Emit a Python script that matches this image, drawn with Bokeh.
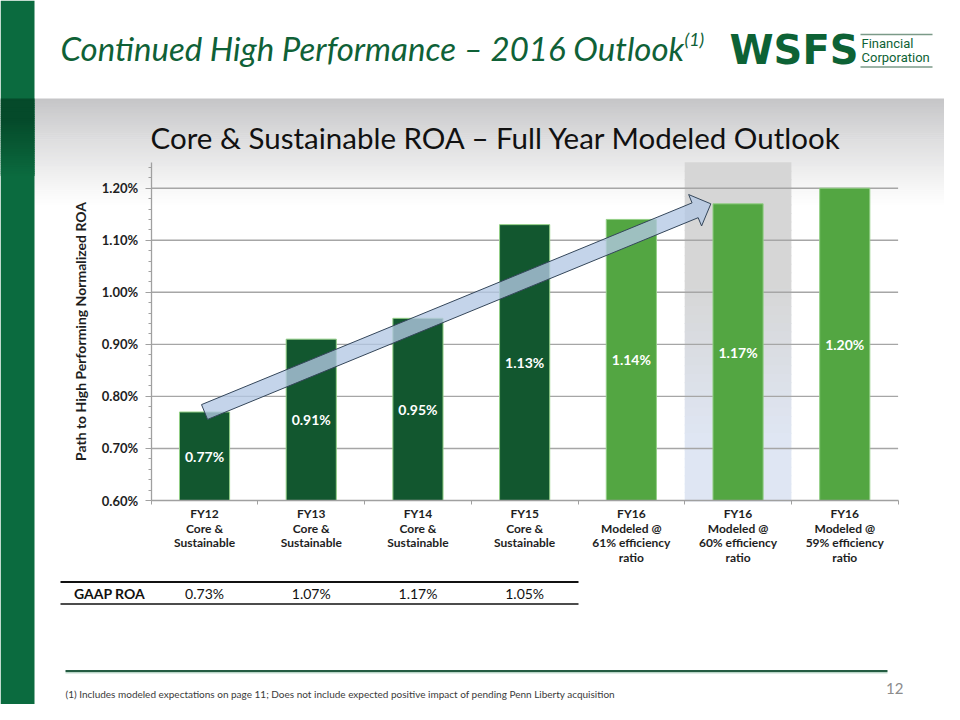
import numpy as np
from bokeh.plotting import figure
from bokeh.models import Range1d, LinearAxis, FixedTicker, PrintfTickFormatter, CustomJSTickFormatter
from bokeh.core.properties import value
from bokeh.embed import file_html
from bokeh.resources import INLINE

# ---------------- data ----------------
categories = [
    "FY12\nCore &\nSustainable",
    "FY13\nCore &\nSustainable",
    "FY14\nCore &\nSustainable",
    "FY15\nCore &\nSustainable",
    "FY16\nModeled @\n61% efficiency\nratio",
    "FY16\nModeled @\n60% efficiency\nratio",
    "FY16\nModeled @\n59% efficiency\nratio",
]
core_roa = [0.77, 0.91, 0.95, 1.13, 1.14, 1.17, 1.20]
bar_kind = ["core", "core", "core", "core", "modeled", "modeled", "modeled"]
gaap_label = "GAAP ROA"
gaap_roa = [0.73, 1.07, 1.17, 1.05]
y_ticks = [0.60, 0.70, 0.80, 0.90, 1.00, 1.10, 1.20]
y_top = 1.25
highlight_index = 5
arrow_from, arrow_to = 0, 5

title_text = "Continued High Performance \u2013 2016 Outlook"
title_sup = "(1)"
chart_title = "Core & Sustainable ROA \u2013 Full Year Modeled Outlook"
y_title = "Path to High Performing Normalized ROA"
footnote = ("(1) Includes modeled expectations on page 11;  Does not include expected "
            "positive impact of pending Penn Liberty acquisition")
page_no = "12"

# ---------------- layout constants (slide pixels) ----------------
W, H = 944, 704
X0, CW = 150.7, 106.7          # chart x-axis start, category width
YB, PPU = 500.0, 520.5         # pixel of 0.60%, pixels per 1.00%
BAR_W = 0.47
CAT_Y0, CAT_DY = 513, 14.5     # category label first line / line spacing

DARK = "#12572f"
LIGHT = "#53a642"
TITLE_GREEN = "#0f6137"
FONT = "Lato"

def mix(c1, c2, t):
    a = [int(c1[i:i + 2], 16) for i in (1, 3, 5)]
    b = [int(c2[i:i + 2], 16) for i in (1, 3, 5)]
    return "#%02x%02x%02x" % tuple(int(round(a[k] + (b[k] - a[k]) * t)) for k in range(3))

p = figure(width=W, height=H, output_backend="svg", toolbar_location=None,
           x_axis_type=None, y_axis_type=None,
           x_range=Range1d(0, W), y_range=Range1d(H, 0),
           min_border=0, outline_line_color=None, background_fill_color="white",
           border_fill_color="white")
p.extra_x_ranges = {"cx": Range1d((0 - X0) / CW, (W - X0) / CW)}
p.extra_y_ranges = {"cy": Range1d(y_ticks[0] - (H - YB) / PPU,
                                  y_ticks[0] + YB / PPU)}
p.grid.visible = False

# ---------------- slide decoration ----------------
# header gray gradient band
n = 52
ys = np.linspace(98, 204, n + 1)
p.quad(left=34, right=W, top=ys[:-1], bottom=ys[1:] + 0.6,
       fill_color=[mix("#c5c5c7", "#ffffff", (i / n) ** 0.9) for i in range(n)],
       line_color=None)

# left green stripe
p.quad(left=0, right=34, top=0, bottom=H, fill_color="#0b6b3f", line_color=None)
sy = np.linspace(98, 175, 36)
p.quad(left=0, right=34, top=sy[:-1], bottom=sy[1:] + 0.6,
       fill_color=[mix("#054a2a", "#0b6b3f", max(0.0, (v - 118) / 57)) for v in sy[:-1]],
       line_color=None)

# highlighted column (gradient gray -> light blue)
hn = 40
hy = np.linspace(y_top, y_ticks[0], hn + 1)
p.quad(left=highlight_index, right=highlight_index + 1, top=hy[:-1], bottom=hy[1:] - 0.002,
       fill_color=[mix("#d6d6d6", "#dfe6f3", min(1.0, max(0.0, (i / hn - 0.35) / 0.45)))
                   for i in range(hn)],
       line_color=None, x_range_name="cx", y_range_name="cy")

# ---------------- chart ----------------
gl = [t for t in y_ticks if t > y_ticks[0]]
p.segment(x0=0, x1=len(categories), y0=gl, y1=gl, line_color="#a6a6a6", line_width=1.4,
          x_range_name="cx", y_range_name="cy")

centers = [i + 0.5 for i in range(len(categories))]
colors = [DARK if k == "core" else LIGHT for k in bar_kind]
p.vbar(x=centers, top=core_roa, bottom=y_ticks[0], width=BAR_W, fill_color=colors,
       line_color="#93cf86", line_width=1, x_range_name="cx", y_range_name="cy")

# y axis
minor = [round(v, 2) for v in np.arange(y_ticks[0], y_top + 0.001, 0.02)]
yax = LinearAxis(x_range_name="cx", y_range_name="cy", fixed_location=0,
                 bounds=(y_ticks[0], y_top),
                 ticker=FixedTicker(ticks=y_ticks, minor_ticks=minor),
                 formatter=PrintfTickFormatter(format="%.2f%%"),
                 axis_line_color="#a0a0a0", axis_line_width=1.3,
                 major_tick_line_color="#a0a0a0", major_tick_out=6, major_tick_in=0,
                 minor_tick_line_color="#a0a0a0", minor_tick_out=3, minor_tick_in=0,
                 major_label_text_font=FONT, major_label_text_font_style="bold",
                 major_label_text_font_size="13px", major_label_text_color="#1e1e1e",
                 major_label_standoff=7,
                 axis_label=y_title, axis_label_text_font=FONT,
                 axis_label_text_font_style="bold", axis_label_text_font_size="14px",
                 axis_label_text_color="#1e1e1e", axis_label_standoff=10)
p.add_layout(yax, "left")

# x axis line with boundary ticks
xax = LinearAxis(x_range_name="cx", y_range_name="cy", fixed_location=y_ticks[0],
                 bounds=(0, len(categories)),
                 ticker=FixedTicker(ticks=list(range(len(categories) + 1)), minor_ticks=[]),
                 formatter=CustomJSTickFormatter(code="return ''"),
                 axis_line_color="#a0a0a0", axis_line_width=1.3,
                 major_tick_line_color="#a0a0a0", major_tick_out=4, major_tick_in=0,
                 major_label_text_font_size="1px")
p.add_layout(xax, "below")

# category labels under each bar, one text per line
lx, ly, lt = [], [], []
for c, lab in zip(centers, categories):
    for k, line in enumerate(lab.split("\n")):
        lx.append(c)
        ly.append(CAT_Y0 + k * CAT_DY)
        lt.append(line)
p.text(x=lx, y=ly, text=lt, text_font=value(FONT),
       text_font_style="bold", text_font_size="12px", text_color="#1e1e1e",
       text_align="center", text_baseline="middle", x_range_name="cx")

# trend arrow (from top of first bar to left edge / top of highlighted bar)
def to_px(cxv, cyv):
    return X0 + cxv * CW, YB - (cyv - y_ticks[0]) * PPU

tail = np.array(to_px(centers[arrow_from], core_roa[arrow_from]))
tip = np.array(to_px(centers[arrow_to] - BAR_W / 2 - 0.02, core_roa[arrow_to]))
u = (tip - tail) / np.linalg.norm(tip - tail)
nv = np.array([-u[1], u[0]])
base = tip - u * 17
pts = [tail + nv * 8, base + nv * 8, base + nv * 17, tip, base - nv * 17, base - nv * 8, tail - nv * 8]
p.patch(x=[q[0] for q in pts], y=[q[1] for q in pts], fill_color="#b3c8e4", fill_alpha=0.78,
        line_color="#34465a", line_width=1)

# data labels
p.text(x=centers, y=[(y_ticks[0] + v) / 2 for v in core_roa], text=["%.2f%%" % v for v in core_roa],
       text_font=value(FONT), text_font_style="bold", text_font_size="14px", text_color="white",
       text_align="center", text_baseline="middle", x_range_name="cx", y_range_name="cy")

# ---------------- GAAP ROA table ----------------
p.segment(x0=60, x1=578, y0=581.5, y1=581.5, line_color="#111111", line_width=2)
p.segment(x0=60, x1=578, y0=603.5, y1=603.5, line_color="#111111", line_width=1.6)
p.text(x=[109], y=[593], text=[gaap_label], text_font=value(FONT), text_font_style="bold",
       text_font_size="14px", text_color="#111111", text_align="center", text_baseline="middle")
p.text(x=centers[:len(gaap_roa)], y=[593] * len(gaap_roa), text=["%.2f%%" % v for v in gaap_roa],
       text_font=value(FONT), text_font_size="14px", text_color="#111111",
       text_align="center", text_baseline="middle", x_range_name="cx")

# ---------------- titles / logo / footer ----------------
p.text(x=[60], y=[47], text=[title_text], text_font=value(FONT), text_font_style="italic",
       text_font_size="33px", text_color=TITLE_GREEN, text_align="left", text_baseline="middle")
p.text(x=[684], y=[38], text=[title_sup], text_font=value(FONT), text_font_style="italic",
       text_font_size="18px", text_color=TITLE_GREEN, text_align="left", text_baseline="middle")

p.text(x=[729], y=[49], text=["WSFS"], text_font=value("DejaVu Sans"), text_font_style="bold",
       text_font_size="40px", text_color="#0d6235", text_align="left", text_baseline="middle")
p.text(x=[861, 861], y=[43, 57], text=["Financial", "Corporation"], text_font=value("Roboto"),
       text_font_size="13px", text_color="#0d6235", text_align="left", text_baseline="middle")
p.segment(x0=[860, 860], x1=[932, 932], y0=[34, 66.5], y1=[34, 66.5], line_color="#7b9a88",
          line_width=1.5)

p.text(x=[496], y=[137], text=[chart_title], text_font=value(FONT), text_font_size="29.5px",
       text_color="#111111", text_align="center", text_baseline="middle")

p.segment(x0=65, x1=887, y0=670.5, y1=670.5, line_color="#245c42", line_width=2)
p.segment(x0=65, x1=887, y0=672.3, y1=672.3, line_color="#9cc4b0", line_width=1)
p.text(x=[65], y=[693], text=[footnote], text_font=value(FONT), text_font_size="10px",
       text_color="#3a3a3a", text_align="left", text_baseline="middle")
p.text(x=[903], y=[688], text=[page_no], text_font=value(FONT), text_font_size="15px",
       text_color="#8c8c8c", text_align="right", text_baseline="middle")

open("out.html", "w").write(file_html(p, INLINE))
